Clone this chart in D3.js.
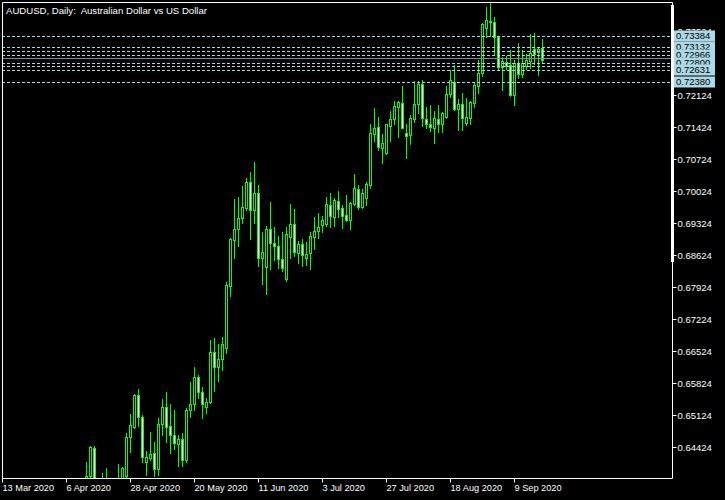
<!DOCTYPE html>
<html><head><meta charset="utf-8">
<script src="https://cdn.jsdelivr.net/npm/d3@7"></script>
<style>html,body{margin:0;padding:0;background:#000;overflow:hidden}svg{display:block}</style>
</head><body>
<svg id="c" width="725" height="500"></svg>
<script>
const title = "AUDUSD, Daily:  Australian Dollar vs US Dollar";
const firstDay = new Date(2020, 2, 13);
const lastDay = new Date(2020, 8, 18);

const open = [0.6280,0.6150,0.6080,0.5960,0.5790,0.5770,0.5780,0.5820,0.5900,0.5980,
0.6070,0.6140,0.6140,0.6130,0.6070,0.6060,0.5990,0.6080,0.6160,0.6180,
0.6290,0.6320,0.6378,0.6440,0.6330,0.6360,0.6365,0.6350,0.6300,0.6350,
0.6345,0.6379,0.6464,0.6487,0.6556,0.6507,0.6410,0.6419,0.6429,0.6394,
0.6492,0.6529,0.6488,0.6468,0.6450,0.6459,0.6415,0.6523,0.6536,0.6595,
0.6563,0.6529,0.6541,0.6650,0.6618,0.6634,0.6658,0.6795,0.6895,0.6919,
0.6943,0.6965,0.7021,0.6961,0.6997,0.6855,0.6837,0.6919,0.6888,0.6883,
0.6853,0.6809,0.6901,0.6930,0.6866,0.6886,0.6855,0.6866,0.6902,0.6914,
0.6927,0.6930,0.6972,0.6946,0.6981,0.6965,0.6949,0.6940,0.6975,0.7006,
0.6968,0.6986,0.7016,0.7127,0.7142,0.7096,0.7085,0.7145,0.7159,0.7187,
0.7194,0.7130,0.7125,0.7159,0.7193,0.7236,0.7159,0.7148,0.7140,0.7159,
0.7149,0.7164,0.7214,0.7241,0.7181,0.7192,0.7152,0.7161,0.7194,0.7232,
0.7260,0.7360,0.7374,0.7373,0.7339,0.7274,0.7285,0.7277,0.7212,0.7283,
0.7258,0.7276,0.7287,0.7312,0.7306,0.7315];
const high = [0.6330,0.6180,0.6110,0.6010,0.5900,0.5900,0.5880,0.5950,0.6000,0.6090,
0.6200,0.6200,0.6210,0.6140,0.6110,0.6080,0.6110,0.6210,0.6210,0.6320,
0.6330,0.6410,0.6445,0.6445,0.6370,0.6386,0.6397,0.6360,0.6370,0.6405,
0.6399,0.6472,0.6515,0.6558,0.6569,0.6512,0.6434,0.6475,0.6453,0.6505,
0.6547,0.6563,0.6536,0.6523,0.6469,0.6472,0.6527,0.6584,0.6617,0.6600,
0.6573,0.6549,0.6676,0.6681,0.6668,0.6682,0.6803,0.6900,0.6984,0.6989,
0.7013,0.7030,0.7043,0.7065,0.7016,0.6912,0.6926,0.6978,0.6923,0.6904,
0.6912,0.6923,0.6975,0.6962,0.6894,0.6897,0.6891,0.6912,0.6945,0.6954,
0.6948,0.6989,0.6997,0.6986,0.7002,0.6972,0.6994,0.6978,0.7040,0.7016,
0.7006,0.7021,0.7149,0.7183,0.7164,0.7127,0.7150,0.7177,0.7199,0.7199,
0.7231,0.7150,0.7169,0.7243,0.7243,0.7245,0.7187,0.7191,0.7177,0.7191,
0.7176,0.7231,0.7267,0.7278,0.7203,0.7217,0.7205,0.7199,0.7240,0.7290,
0.7369,0.7405,0.7414,0.7383,0.7341,0.7296,0.7298,0.7311,0.7289,0.7327,
0.7311,0.7301,0.7346,0.7349,0.7318,0.7334];
const low = [0.6170,0.6030,0.5930,0.5760,0.5510,0.5710,0.5700,0.5800,0.5850,0.5950,
0.6040,0.6080,0.6110,0.6030,0.6030,0.5980,0.5980,0.6070,0.6110,0.6170,
0.6270,0.6290,0.6370,0.6320,0.6290,0.6330,0.6330,0.6250,0.6280,0.6310,
0.6330,0.6375,0.6432,0.6484,0.6489,0.6409,0.6381,0.6415,0.6379,0.6381,
0.6469,0.6454,0.6430,0.6437,0.6401,0.6401,0.6409,0.6509,0.6523,0.6549,
0.6505,0.6517,0.6538,0.6565,0.6587,0.6611,0.6647,0.6773,0.6856,0.6881,
0.6932,0.6961,0.6897,0.6933,0.6839,0.6800,0.6776,0.6832,0.6851,0.6835,
0.6828,0.6806,0.6856,0.6861,0.6844,0.6839,0.6841,0.6832,0.6876,0.6900,
0.6913,0.6926,0.6924,0.6926,0.6946,0.6922,0.6937,0.6919,0.6972,0.6963,
0.6965,0.6972,0.7010,0.7112,0.7091,0.7064,0.7083,0.7112,0.7150,0.7121,
0.7140,0.7075,0.7105,0.7154,0.7172,0.7145,0.7140,0.7134,0.7108,0.7132,
0.7132,0.7161,0.7209,0.7180,0.7136,0.7136,0.7147,0.7149,0.7187,0.7216,
0.7253,0.7340,0.7342,0.7303,0.7266,0.7223,0.7269,0.7211,0.7191,0.7249,
0.7252,0.7269,0.7271,0.7280,0.7256,0.7283];
const close = [0.6215,0.6080,0.5960,0.5800,0.5770,0.5790,0.5820,0.5900,0.5980,0.6070,
0.6150,0.6140,0.6130,0.6070,0.6060,0.5990,0.6080,0.6160,0.6180,0.6290,
0.6300,0.6379,0.6442,0.6330,0.6360,0.6365,0.6350,0.6300,0.6350,0.6340,
0.6396,0.6464,0.6490,0.6556,0.6507,0.6420,0.6420,0.6426,0.6394,0.6492,
0.6529,0.6487,0.6468,0.6452,0.6459,0.6415,0.6523,0.6536,0.6595,0.6563,
0.6536,0.6541,0.6650,0.6618,0.6634,0.6668,0.6797,0.6897,0.6919,0.6943,
0.6967,0.7021,0.6961,0.6997,0.6855,0.6870,0.6919,0.6888,0.6883,0.6853,
0.6835,0.6908,0.6930,0.6868,0.6886,0.6862,0.6864,0.6904,0.6915,0.6923,
0.6940,0.6973,0.6948,0.6983,0.6964,0.6948,0.6940,0.6976,0.7009,0.6968,
0.6997,0.7017,0.7129,0.7140,0.7098,0.7107,0.7148,0.7159,0.7188,0.7196,
0.7141,0.7123,0.7161,0.7193,0.7236,0.7161,0.7149,0.7143,0.7161,0.7149,
0.7172,0.7214,0.7245,0.7181,0.7192,0.7161,0.7164,0.7196,0.7234,0.7261,
0.7367,0.7376,0.7372,0.7339,0.7274,0.7286,0.7275,0.7212,0.7283,0.7258,
0.7283,0.7290,0.7304,0.7301,0.7313,0.7289];

const xTickLabels = ["13 Mar 2020","6 Apr 2020","28 Apr 2020","20 May 2020","11 Jun 2020","3 Jul 2020","27 Jul 2020","18 Aug 2020","9 Sep 2020"];
const yTickValues = [0.64424,0.65124,0.65824,0.66524,0.67224,0.67924,0.68624,0.69324,0.70024,0.70724,0.71424,0.72124,0.73524];
const levelPrices = [0.73384,0.73132,0.73055,0.72966,0.72800,0.72722,0.72631,0.72380];
// drawing order of the price-scale tags; tags fully covered by later ones carry no text
const levelTagOrder = [0.73055,0.73132,0.72966,0.72722,0.72800,0.72631,0.72380,0.73384];
const levelTagHidden = [0.73055,0.72722];

// ---- layout ----
const W = 725, H = 500;
const plot = {left: 2, top: 2, right: 672, bottom: 478};
const FONT = "'Liberation Sans', Arial, sans-serif";
const green = "#00ff00", levelColor = "#add8e6", bidColor = "#7d8da2";
const levelShift = -1.5; // MT-style objects sit slightly above the label grid

const dates = d3.timeDay.range(firstDay, d3.timeDay.offset(lastDay, 1)).filter(d => d.getDay() % 6 !== 0);
const fmt = d3.timeFormat("%-d %b %Y");
const bars = dates.map((d, i) => ({d, o: open[i], h: high[i], l: low[i], c: close[i]}));

const x = d3.scaleBand().domain(dates).range([0.5, 0.5 + 4 * dates.length]).padding(0);
const y = d3.scaleLinear().domain([0.64424, 0.72124]).range([447, 95]);
const cx = d => x(d) + x.bandwidth() / 2;
const ly = p => Math.round(y(p) + levelShift);

const svg = d3.select("#c");
svg.append("rect").attr("width", W).attr("height", H).attr("fill", "#000");

svg.append("defs").append("clipPath").attr("id", "clip")
  .append("rect").attr("x", plot.left + 1).attr("y", plot.top + 1)
  .attr("width", plot.right - plot.left - 1).attr("height", plot.bottom - plot.top - 1);

const g = svg.append("g").attr("clip-path", "url(#clip)");
const candles = g.selectAll("g.k").data(bars).join("g").attr("class", "k");
candles.append("line")
  .attr("x1", b => cx(b.d)).attr("x2", b => cx(b.d))
  .attr("y1", b => Math.round(y(b.h))).attr("y2", b => Math.round(y(b.l)) + 1)
  .attr("stroke", green).attr("stroke-width", 1).attr("shape-rendering", "crispEdges");
candles.append("rect")
  .attr("x", b => cx(b.d) - 1)
  .attr("y", b => Math.round(y(Math.max(b.o, b.c))) + 0.5)
  .attr("width", 2)
  .attr("height", b => Math.max(0, Math.round(y(Math.min(b.o, b.c))) - Math.round(y(Math.max(b.o, b.c)))))
  .attr("fill", b => b.c >= b.o ? "#000" : "#fff")
  .attr("stroke", green).attr("stroke-width", 1);

// level lines
const lv = svg.append("g").attr("clip-path", "url(#clip)");
lv.selectAll("line.lvl").data(levelPrices).join("line").attr("class", "lvl")
  .attr("x1", plot.left).attr("x2", plot.right)
  .attr("y1", p => ly(p) + 0.5).attr("y2", p => ly(p) + 0.5)
  .attr("stroke", levelColor).attr("stroke-dasharray", "3,2");
const bid = close[close.length - 1];
lv.append("line").attr("x1", plot.left).attr("x2", plot.right)
  .attr("y1", ly(bid) + 0.5).attr("y2", ly(bid) + 0.5)
  .attr("stroke", bidColor);

// frame
svg.append("path")
  .attr("d", `M${plot.left + 0.5},${plot.bottom + 0.5}V${plot.top + 0.5}H${plot.right + 0.5}V${plot.bottom + 0.5}H${plot.left + 0.5}`)
  .attr("fill", "none").attr("stroke", "#fff");
svg.append("rect").attr("x", plot.right - 1).attr("y", 5).attr("width", 3).attr("height", 257).attr("fill", "#fff");

// y axis
const yAxis = d3.axisRight(y).tickValues(yTickValues).tickSize(4).tickPadding(1).tickFormat(d3.format(".5f"));
const ya = svg.append("g").attr("transform", `translate(${plot.right + 0.5},0)`).call(yAxis);
ya.select(".domain").remove();
ya.selectAll(".tick line").attr("stroke", "#fff");
ya.selectAll(".tick text").attr("fill", "#fff").style("font-family", FONT).style("font-size", "9.5px");

// x axis
const tickDates = xTickLabels.map(s => dates.find(d => fmt(d) === s));
const xAxis = d3.axisBottom(x).tickValues(tickDates).tickSize(4).tickFormat(fmt);
const xa = svg.append("g").attr("transform", `translate(0,${plot.bottom + 0.5})`).call(xAxis);
xa.select(".domain").remove();
xa.selectAll(".tick line").attr("stroke", "#fff");
xa.selectAll(".tick text").attr("fill", "#fff").attr("text-anchor", "start").attr("x", 0).attr("y", 6)
  .style("font-family", FONT).style("font-size", "9.2px");

// level tags on price scale
const lab = svg.append("g");
levelTagOrder.forEach(p => {
  const yy = ly(p);
  lab.append("rect").attr("x", plot.right + 2).attr("y", yy - 5.5).attr("width", 41).attr("height", 11).attr("fill", levelColor);
  if (!levelTagHidden.includes(p)) {
    lab.append("text").attr("x", plot.right + 4).attr("y", yy).attr("dy", "0.35em")
      .attr("fill", "#000").style("font-family", FONT).style("font-size", "9.5px")
      .text(d3.format(".5f")(p));
  }
});

// title
svg.append("text").attr("x", 6).attr("y", 13.5).attr("fill", "#fff")
  .style("font-family", FONT).style("font-size", "9.6px").style("white-space", "pre")
  .text(title);
</script>
</body></html>
